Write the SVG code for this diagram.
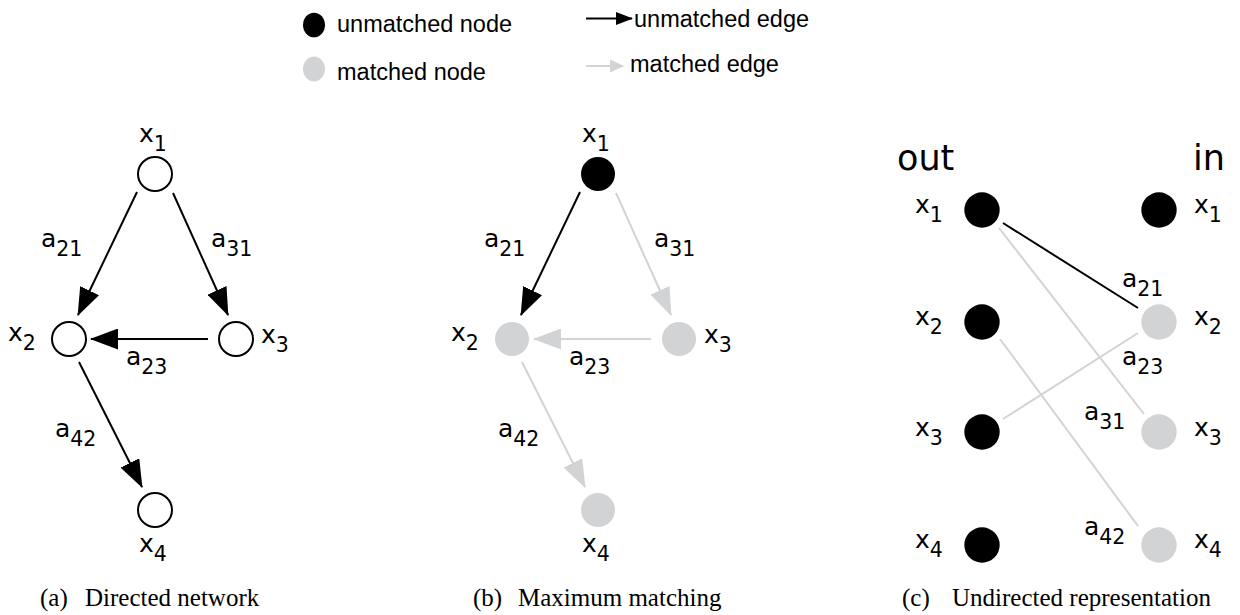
<svg xmlns="http://www.w3.org/2000/svg" width="1240" height="615" viewBox="0 0 1240 615">
<style>
.lbl{font-family:"DejaVu Sans","Verdana",sans-serif;font-size:25px;fill:#000}
.sub{font-size:20.5px}
.leg{font-family:"Liberation Sans",Arial,sans-serif;font-size:23.5px;fill:#000}
.cap{font-family:"Liberation Serif","Times New Roman",serif;font-size:25px;fill:#000}
.hdr{font-family:"DejaVu Sans","Verdana",sans-serif;font-size:35px;fill:#000}
.open{fill:#fff;stroke:#000;stroke-width:2}
.blk{fill:#000}
.gry{fill:#d1d3d4}
.eb{stroke:#000;stroke-width:2;fill:none}
.eg{stroke:#d1d3d4;stroke-width:2;fill:none}
</style>
<defs>
<marker id="hb" markerUnits="userSpaceOnUse" markerWidth="28" markerHeight="21" viewBox="0 0 28 21" refX="27" refY="10.5" orient="auto"><path d="M0,0 L28,10.5 L0,21 Z" fill="#000"/></marker>
<marker id="hg" markerUnits="userSpaceOnUse" markerWidth="28" markerHeight="21" viewBox="0 0 28 21" refX="27" refY="10.5" orient="auto"><path d="M0,0 L28,10.5 L0,21 Z" fill="#d1d3d4"/></marker>
<marker id="lb" markerUnits="userSpaceOnUse" markerWidth="17" markerHeight="13" viewBox="0 0 17 13" refX="16" refY="6.5" orient="auto"><path d="M0,0 L17,6.5 L0,13 Z" fill="#000"/></marker>
<marker id="lg" markerUnits="userSpaceOnUse" markerWidth="14" markerHeight="13" viewBox="0 0 14 13" refX="13" refY="6.5" orient="auto"><path d="M0,0 L14,6.5 L0,13 Z" fill="#d1d3d4"/></marker>
</defs>

<!-- Legend -->
<g id="legend">
<ellipse cx="314" cy="25" rx="11" ry="12.3" class="blk"/>
<text x="337" y="32" class="leg">unmatched node</text>
<ellipse cx="314" cy="69" rx="11" ry="12.5" class="gry"/>
<text x="337" y="80" class="leg">matched node</text>
<line x1="586" y1="18.5" x2="632" y2="18.5" class="eb" marker-end="url(#lb)"/>
<text x="634" y="27" class="leg">unmatched edge</text>
<line x1="586" y1="66" x2="623" y2="66" class="eg" marker-end="url(#lg)"/>
<text x="630" y="72" class="leg">matched edge</text>
</g>

<!-- Panel (a) -->
<g id="panel-a">
<g id="a-connectors">
<line x1="137" y1="192" x2="78" y2="315" class="eb" marker-end="url(#hb)"/>
<line x1="173" y1="193" x2="228" y2="315" class="eb" marker-end="url(#hb)"/>
<line x1="208" y1="339" x2="91" y2="339" class="eb" marker-end="url(#hb)"/>
<line x1="79" y1="362" x2="142" y2="487" class="eb" marker-end="url(#hb)"/>
<text x="41" y="247" class="lbl">a<tspan dy="9" class="sub">21</tspan></text>
<text x="211" y="247" class="lbl">a<tspan dy="9" class="sub">31</tspan></text>
<text x="126" y="365" class="lbl">a<tspan dy="9" class="sub">23</tspan></text>
<text x="55" y="437" class="lbl">a<tspan dy="9" class="sub">42</tspan></text>
</g>
<g id="a-x1"><circle cx="155" cy="174" r="17" class="open"/><text x="139" y="142" class="lbl">x<tspan dy="9" class="sub">1</tspan></text></g>
<g id="a-x2"><circle cx="69" cy="339" r="17" class="open"/><text x="8" y="341" class="lbl">x<tspan dy="9" class="sub">2</tspan></text></g>
<g id="a-x3"><circle cx="236" cy="339" r="17" class="open"/><text x="261" y="343" class="lbl">x<tspan dy="9" class="sub">3</tspan></text></g>
<g id="a-x4"><circle cx="155" cy="510" r="17" class="open"/><text x="139" y="552" class="lbl">x<tspan dy="9" class="sub">4</tspan></text></g>
<text x="40" y="606" class="cap">(a)</text>
<text x="85" y="606" class="cap">Directed network</text>
</g>

<!-- Panel (b) -->
<g id="panel-b">
<g id="b-connectors" transform="translate(443,0)">
<line x1="137" y1="192" x2="78" y2="315" class="eb" marker-end="url(#hb)"/>
<line x1="173" y1="193" x2="228" y2="315" class="eg" marker-end="url(#hg)"/>
<line x1="208" y1="339" x2="91" y2="339" class="eg" marker-end="url(#hg)"/>
<line x1="79" y1="362" x2="142" y2="487" class="eg" marker-end="url(#hg)"/>
<text x="41" y="247" class="lbl">a<tspan dy="9" class="sub">21</tspan></text>
<text x="211" y="247" class="lbl">a<tspan dy="9" class="sub">31</tspan></text>
<text x="126" y="365" class="lbl">a<tspan dy="9" class="sub">23</tspan></text>
<text x="55" y="437" class="lbl">a<tspan dy="9" class="sub">42</tspan></text>
</g>
<g id="b-x1"><circle cx="598" cy="174" r="17" class="blk"/><text x="582" y="142" class="lbl">x<tspan dy="9" class="sub">1</tspan></text></g>
<g id="b-x2"><circle cx="512" cy="339" r="17" class="gry"/><text x="451" y="341" class="lbl">x<tspan dy="9" class="sub">2</tspan></text></g>
<g id="b-x3"><circle cx="679" cy="339" r="17" class="gry"/><text x="704" y="343" class="lbl">x<tspan dy="9" class="sub">3</tspan></text></g>
<g id="b-x4"><circle cx="598" cy="510" r="17" class="gry"/><text x="582" y="552" class="lbl">x<tspan dy="9" class="sub">4</tspan></text></g>
<text x="473" y="606" class="cap">(b)</text>
<text x="518" y="606" class="cap">Maximum matching</text>
</g>

<!-- Panel (c) -->
<g id="panel-c">
<text x="897" y="170" class="hdr">out</text>
<text x="1193" y="170" class="hdr">in</text>
<g id="c-connectors">
<line x1="999" y1="228" x2="1144" y2="414" class="eg"/>
<line x1="1003" y1="419" x2="1138" y2="333" class="eg"/>
<line x1="1000" y1="339" x2="1138" y2="526" class="eg"/>
<line x1="1003" y1="223" x2="1138" y2="308" class="eb"/>
<text x="1122" y="287" class="lbl">a<tspan dy="9" class="sub">21</tspan></text>
<text x="1122" y="365" class="lbl">a<tspan dy="9" class="sub">23</tspan></text>
<text x="1084" y="420" class="lbl">a<tspan dy="9" class="sub">31</tspan></text>
<text x="1084" y="535" class="lbl">a<tspan dy="9" class="sub">42</tspan></text>
</g>
<g id="c-out-x1"><circle cx="982" cy="210" r="17.7" class="blk"/><text x="915" y="213" class="lbl">x<tspan dy="9" class="sub">1</tspan></text></g>
<g id="c-out-x2"><circle cx="982" cy="322" r="17.7" class="blk"/><text x="915" y="325" class="lbl">x<tspan dy="9" class="sub">2</tspan></text></g>
<g id="c-out-x3"><circle cx="982" cy="432" r="17.7" class="blk"/><text x="915" y="436" class="lbl">x<tspan dy="9" class="sub">3</tspan></text></g>
<g id="c-out-x4"><circle cx="982" cy="545" r="17.7" class="blk"/><text x="915" y="548" class="lbl">x<tspan dy="9" class="sub">4</tspan></text></g>
<g id="c-in-x1"><circle cx="1159" cy="210" r="17.7" class="blk"/><text x="1194" y="213" class="lbl">x<tspan dy="9" class="sub">1</tspan></text></g>
<g id="c-in-x2"><circle cx="1159" cy="322" r="17.7" class="gry"/><text x="1194" y="325" class="lbl">x<tspan dy="9" class="sub">2</tspan></text></g>
<g id="c-in-x3"><circle cx="1159" cy="432" r="17.7" class="gry"/><text x="1194" y="436" class="lbl">x<tspan dy="9" class="sub">3</tspan></text></g>
<g id="c-in-x4"><circle cx="1159" cy="545" r="17.7" class="gry"/><text x="1194" y="548" class="lbl">x<tspan dy="9" class="sub">4</tspan></text></g>
<text x="902" y="606" class="cap">(c)</text>
<text x="952" y="606" class="cap">Undirected representation</text>
</g>
</svg>
